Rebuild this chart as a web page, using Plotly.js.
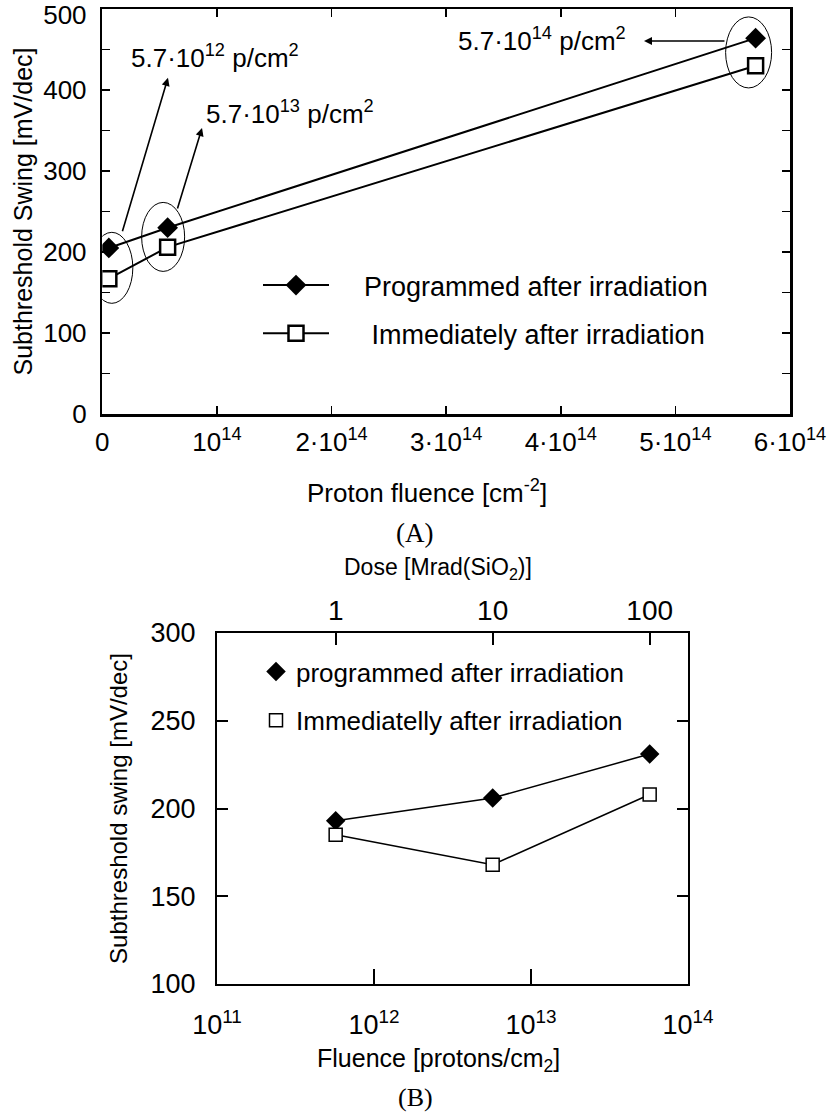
<!DOCTYPE html>
<html>
<head>
<meta charset="utf-8">
<script src="https://cdn.plot.ly/plotly-3.0.1.min.js"></script>
<style>
  html, body { margin: 0; padding: 0; background: #fff; }
  #chart { width: 829px; height: 1113px; }
</style>
</head>
<body>
<div id="chart"></div>
<script>
// ---- Panel (A): subthreshold swing vs proton fluence (linear) ----
const fluenceA = [5.7e12, 5.7e13, 5.7e14];
const programmedA = [205, 230, 464];
const immediateA = [167, 206, 430];
const fluenceTicksA = [0, 1e14, 2e14, 3e14, 4e14, 5e14, 6e14];
const fluenceTickTextA = ['0', '10<sup>14</sup>', '2·10<sup>14</sup>', '3·10<sup>14</sup>',
                          '4·10<sup>14</sup>', '5·10<sup>14</sup>', '6·10<sup>14</sup>'];
const swingTicksA = [0, 50, 100, 150, 200, 250, 300, 350, 400, 450, 500];
// the top label is nudged down so it stays inside the page
const swingTickTextA = ['0', '', '100', '', '200', '', '300', '', '400', '',
                        '<sub><span style="font-size:26px">500</span></sub>'];
const fluenceLabelsA = ['5.7·10<sup>12</sup> p/cm<sup>2</sup>',
                        '5.7·10<sup>13</sup> p/cm<sup>2</sup>',
                        '5.7·10<sup>14</sup> p/cm<sup>2</sup>'];

// ---- Panel (B): subthreshold swing vs fluence (log), dose on top ----
const fluenceB = [5.7e11, 5.7e12, 5.7e13];
const programmedB = [193, 206, 231];
const immediateB = [185, 168, 208];
const fluencePerMrad = 5.7e11;          // protons/cm^2 per Mrad(SiO2)
const fluenceTicksB = [1e11, 1e12, 1e13, 1e14];
const fluenceTickTextB = ['10<sup>11</sup>', '10<sup>12</sup>', '10<sup>13</sup>', '10<sup>14</sup>'];
const doseTicksB = [1, 10, 100];
const doseTickTextB = ['1', '10', '100'];
const swingTicksB = [100, 150, 200, 250, 300];

const W = 829, H = 1113;
const px = v => v / W;
const py = v => 1 - v / H;
const FONT = 'Liberation Sans, Arial, Helvetica, sans-serif';
const SERIF = 'Liberation Serif, Times New Roman, serif';
const BLACK = '#000';
const NB = '\u00a0';

const traces = [
  {
    x: fluenceA, y: programmedA, xaxis: 'x', yaxis: 'y',
    name: NB.repeat(4) + 'Programmed after irradiation', legend: 'legend', legendgroup: 'a1',
    mode: 'lines+markers', line: { color: BLACK, width: 2 },
    marker: { symbol: 'diamond', size: 16, color: BLACK }
  },
  {
    x: fluenceA, y: immediateA, xaxis: 'x', yaxis: 'y',
    name: NB.repeat(5) + 'Immediately after irradiation', legend: 'legend', legendgroup: 'a2',
    mode: 'lines+markers', line: { color: BLACK, width: 2 },
    marker: { symbol: 'square', size: 15, color: '#fff', line: { color: BLACK, width: 2.5 } }
  },
  {
    x: fluenceB, y: programmedB, xaxis: 'x2', yaxis: 'y2',
    mode: 'lines', line: { color: BLACK, width: 1.5 }, showlegend: false, hoverinfo: 'skip'
  },
  {
    x: fluenceB, y: immediateB, xaxis: 'x2', yaxis: 'y2',
    mode: 'lines', line: { color: BLACK, width: 1.5 }, showlegend: false, hoverinfo: 'skip'
  },
  {
    x: fluenceB, y: programmedB, xaxis: 'x2', yaxis: 'y2',
    name: 'programmed after irradiation', legend: 'legend2', legendgroup: 'b1',
    mode: 'markers', marker: { symbol: 'diamond', size: 15, color: BLACK }
  },
  {
    x: fluenceB, y: immediateB, xaxis: 'x2', yaxis: 'y2',
    name: 'Immediatelly after irradiation', legend: 'legend2', legendgroup: 'b2',
    mode: 'markers', marker: { symbol: 'square', size: 13, color: '#fff', line: { color: BLACK, width: 1.5 } }
  },
  {
    // dose scale for the top axis of panel (B)
    x: fluenceB.map(f => f / fluencePerMrad), y: programmedB, xaxis: 'x3', yaxis: 'y2',
    mode: 'markers', marker: { opacity: 0 }, showlegend: false, hoverinfo: 'skip'
  }
];

const axisBase = {
  showgrid: false, zeroline: false, showline: true, linecolor: BLACK,
  ticks: 'inside', tickcolor: BLACK, color: BLACK, ticklabeloverflow: 'allow'
};

// ellipses around each pair of points (pixel-sized, anchored at the data)
function ring(xv, yv, x0, x1, y0, y1) {
  return {
    type: 'circle', xref: 'x', yref: 'y', xsizemode: 'pixel', ysizemode: 'pixel',
    xanchor: xv, yanchor: yv, x0: x0, x1: x1, y0: y0, y1: y1,
    line: { color: BLACK, width: 1 }
  };
}
const mid = i => (programmedA[i] + immediateA[i]) / 2;

function label(x, y, text, font, xref, yref) {
  return { xref: xref || 'paper', yref: yref || 'paper', x: x, y: y, text: text,
           showarrow: false, xanchor: 'center', yanchor: 'middle', font: font };
}
function arrow(x, y, ax, ay) {
  return { xref: 'x', yref: 'y', x: x, y: y, ax: ax, ay: ay, text: '',
           showarrow: true, arrowhead: 2, arrowsize: 1, arrowwidth: 1.6, arrowcolor: BLACK };
}

const layout = {
  width: W, height: H,
  margin: { l: 0, r: 0, t: 0, b: 0 },
  paper_bgcolor: '#fff', plot_bgcolor: 'rgba(0,0,0,0)',
  font: { family: FONT, color: BLACK, size: 26 },
  showlegend: true,
  xaxis: Object.assign({}, axisBase, {
    domain: [px(102.3), px(790)], anchor: 'y', range: [0, 6e14],
    tickmode: 'array', tickvals: fluenceTicksA, ticktext: fluenceTickTextA,
    ticklen: 8, tickwidth: 1.5, linewidth: 2.5, mirror: 'ticks',
    tickfont: { size: 26 }, ticklabelstandoff: 3
  }),
  yaxis: Object.assign({}, axisBase, {
    domain: [py(414), py(9)], anchor: 'x', range: [0, 500],
    tickmode: 'array', tickvals: swingTicksA, ticktext: swingTickTextA,
    ticklen: 8, tickwidth: 1.5, linewidth: 2.5, mirror: 'ticks',
    tickfont: { size: 26 }, ticklabelstandoff: 8,
    title: { text: 'Subthreshold Swing [mV/dec]', font: { size: 25 }, standoff: 4 }
  }),
  xaxis2: Object.assign({}, axisBase, {
    domain: [px(217), px(688)], anchor: 'y2', type: 'log', range: [11, 14],
    tickmode: 'array', tickvals: fluenceTicksB, ticktext: fluenceTickTextB,
    ticklen: 15, tickwidth: 2, linewidth: 2,
    tickfont: { size: 27 }, ticklabelstandoff: 16
  }),
  xaxis3: Object.assign({}, axisBase, {
    overlaying: 'x2', side: 'top', anchor: 'y2', type: 'log',
    range: [Math.log10(1e11 / fluencePerMrad), Math.log10(1e14 / fluencePerMrad)],
    tickmode: 'array', tickvals: doseTicksB, ticktext: doseTickTextB,
    ticklen: 12, tickwidth: 2, linewidth: 2,
    tickfont: { size: 28 }
  }),
  yaxis2: Object.assign({}, axisBase, {
    domain: [py(984), py(633)], anchor: 'x2', range: [100, 300],
    tickmode: 'array', tickvals: swingTicksB,
    ticklen: 11, tickwidth: 2, linewidth: 2, mirror: 'ticks',
    tickfont: { size: 27 }, ticklabelstandoff: 14,
    title: { text: 'Subthreshold swing [mV/dec]', font: { size: 24 }, standoff: 16 }
  }),
  legend: {
    x: px(258), y: py(261), xanchor: 'left', yanchor: 'top',
    bgcolor: 'rgba(0,0,0,0)', borderwidth: 0, font: { size: 27 },
    itemwidth: 66, tracegroupgap: 10, traceorder: 'grouped'
  },
  legend2: {
    x: px(256), y: py(648), xanchor: 'left', yanchor: 'top',
    bgcolor: 'rgba(0,0,0,0)', borderwidth: 0, font: { size: 26 },
    tracegroupgap: 12, traceorder: 'grouped'
  },
  shapes: [
    ring(fluenceA[0], mid(0), -18, 24, -40, 31),
    ring(fluenceA[1], mid(1), -26, 17, -34, 35),
    ring(fluenceA[2], mid(2), -30, 16, -36, 35)
  ],
  annotations: [
    // arrows from the rings to the fluence labels
    arrow(0.573e14, 415, -46, 155),
    arrow(0.870e14, 353, -25, 82),
    arrow(4.726e14, 460.5, 82, 0),
    label(0.983e14, 441, fluenceLabelsA[0], { size: 26 }, 'x', 'y'),
    label(1.638e14, 372, fluenceLabelsA[1], { size: 26 }, 'x', 'y'),
    label(3.835e14, 462, fluenceLabelsA[2], { size: 26 }, 'x', 'y'),
    // axis titles and panel captions
    label(px(427), py(492), 'Proton fluence [cm<sup>-2</sup>]', { size: 26 }),
    label(px(414), py(533), '(A)', { size: 27, family: SERIF }),
    label(px(438), py(568), 'Dose [Mrad(SiO<sub>2</sub>)]', { size: 23 }),
    label(px(438), py(1060), 'Fluence [protons/cm<sub>2</sub>]', { size: 25 }),
    label(px(415), py(1097), '(B)', { size: 26, family: SERIF })
  ]
};

Plotly.newPlot('chart', traces, layout, { displayModeBar: false, staticPlot: true });
</script>
</body>
</html>
